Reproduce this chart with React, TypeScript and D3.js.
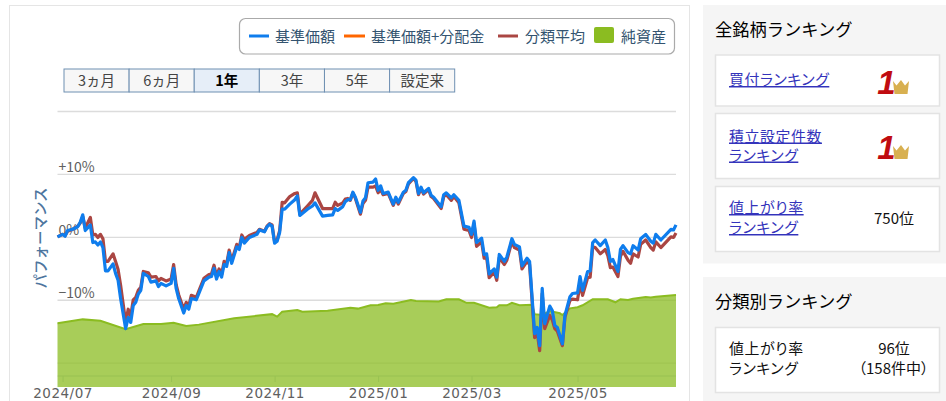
import { useEffect, useRef } from "react";
import * as d3 from "d3";

// legend and buttons
const legendLabels = ["基準価額", "基準価額+分配金", "分類平均", "純資産"];
const rangeLabels = ["3ヵ月", "6ヵ月", "1年", "3年", "5年", "設定来"];
const selectedRange = "1年";

// trading session number of each point
const sessions = [0, 2, 3, 4, 6, 8, 9, 10, 11, 13, 14, 15, 16, 17, 18, 19, 20, 22, 23, 24, 25, 27, 28, 29, 30, 31, 32, 33, 34, 36, 37, 39, 40, 41, 43, 45, 46, 47, 48, 50, 51, 52, 53, 55, 56, 58, 60, 61, 62, 63, 64, 65, 66, 67, 68, 69, 71, 72, 73, 74, 76, 79, 80, 82, 83, 84, 85, 86, 87, 88, 89, 90, 92, 94, 95, 96, 99, 101, 102, 105, 107, 109, 110, 111, 113, 114, 115, 116, 117, 118, 120, 121, 122, 123, 125, 126, 127, 128, 129, 131, 133, 134, 135, 137, 138, 139, 141, 142, 143, 144, 145, 147, 148, 149, 152, 153, 154, 156, 157, 159, 161, 163, 164, 165, 166, 168, 169, 170, 171, 173, 174, 175, 177, 178, 180, 181, 183, 184, 186, 187, 189, 190, 191, 192, 193, 195, 196, 197, 198, 200, 201, 203, 204, 206, 207, 208, 210, 211, 212, 213, 215, 217, 218, 219, 220, 222, 223, 224, 226, 227, 228, 230, 231, 233, 235, 236, 237, 239, 243, 244, 245];
const basePrice = [0.0, 0.4, 0.1, 1.0, 1.2, 1.6, 2.3, 3.5, 1.0, 1.9, -0.9, -0.8, -1.3, -0.8, -1.7, -5.4, -5.4, -4.3, -5.8, -6.9, -9.8, -14.6, -12.8, -13.6, -10.9, -10.4, -9.1, -8.5, -5.8, -6.3, -7.2, -7.0, -7.9, -7.4, -7.8, -7.4, -5.0, -8.2, -9.8, -12.1, -10.9, -11.5, -9.8, -10.0, -9.0, -7.0, -6.4, -6.3, -5.0, -6.7, -5.5, -6.4, -4.4, -4.7, -2.5, -4.2, -1.6, -2.0, -0.1, -1.0, -0.1, 0.4, 1.1, 0.8, 1.6, 2.0, 1.7, -1.0, -0.7, 0.7, 4.4, 4.4, 5.2, 5.9, 6.5, 3.4, 4.4, 4.9, 5.4, 3.3, 3.4, 3.5, 4.5, 4.2, 4.8, 5.6, 5.9, 5.9, 7.1, 6.3, 3.9, 5.7, 6.2, 8.6, 8.7, 9.2, 7.4, 8.1, 6.9, 7.1, 5.2, 6.3, 5.5, 7.1, 7.4, 8.6, 9.4, 9.0, 6.9, 7.9, 7.0, 7.7, 6.6, 6.3, 4.8, 6.7, 7.0, 6.2, 6.7, 5.8, 1.7, 1.5, 0.4, 2.5, -0.9, -0.2, -2.8, -2.7, -5.9, -5.1, -6.4, -2.8, -3.9, -3.2, -0.3, -1.2, -1.6, -4.6, -3.4, -3.9, -15.4, -14.4, -17.3, -8.2, -13.8, -11.0, -11.7, -14.1, -14.4, -17.0, -12.5, -9.5, -9.0, -8.9, -6.3, -8.5, -5.5, -5.4, -0.9, -0.5, -1.4, -0.5, -1.7, -3.9, -3.6, -5.5, -2.0, -1.4, -2.5, -2.7, -1.4, -2.1, -0.3, 0.4, -0.7, -1.0, 0.4, -0.5, 1.2, 1.1, 1.9];
const categoryAverage = [0.0, 0.4, 0.2, 0.9, 1.2, 1.7, 2.2, 3.2, 1.4, 3.1, 0.3, 0.4, -0.1, 0.4, -0.3, -3.9, -3.9, -2.7, -3.9, -5.2, -7.7, -13.6, -11.5, -12.6, -10.0, -9.6, -8.5, -8.0, -5.5, -5.7, -6.4, -6.3, -7.0, -6.6, -7.0, -6.7, -4.4, -7.6, -9.2, -11.5, -10.4, -11.0, -9.3, -9.6, -8.6, -6.6, -6.0, -5.9, -4.5, -6.3, -5.1, -6.0, -3.9, -4.3, -2.1, -3.8, -1.2, -1.7, 0.3, -0.4, 0.2, 0.7, 1.2, 0.9, 1.7, 2.1, 1.9, -0.8, -0.5, 1.0, 5.5, 5.4, 6.4, 6.9, 7.0, 3.6, 4.9, 5.8, 7.0, 4.5, 4.5, 4.5, 5.5, 5.0, 5.4, 6.0, 6.1, 5.8, 7.0, 6.1, 3.6, 5.3, 5.8, 7.9, 7.9, 8.1, 7.0, 7.5, 6.7, 6.9, 5.0, 6.1, 5.2, 6.9, 7.2, 8.4, 9.3, 8.8, 6.7, 7.7, 6.8, 7.5, 6.4, 6.1, 4.5, 6.4, 6.7, 5.8, 6.4, 5.4, 1.2, 1.0, -0.1, 2.1, -1.5, -0.8, -3.4, -3.3, -6.5, -5.6, -6.9, -3.3, -4.4, -3.7, -0.7, -1.7, -2.1, -5.1, -3.9, -4.4, -16.0, -15.1, -18.1, -9.0, -14.6, -12.5, -13.2, -14.6, -15.0, -17.3, -12.8, -10.1, -9.9, -10.0, -7.4, -9.3, -6.5, -6.4, -1.6, -1.7, -2.7, -2.0, -3.0, -4.9, -4.8, -6.3, -3.1, -2.3, -3.7, -4.2, -2.7, -3.2, -1.2, -0.5, -1.7, -2.1, -0.8, -1.7, 0.0, -0.1, 0.6];

// net assets, the hidden right axis runs 0-100
const assetSessions = [0, 10, 17, 27, 34, 41, 46, 51, 56, 70, 85, 87, 89, 95, 97, 107, 116, 119, 124, 127, 130, 133, 140, 142, 151, 154, 159, 162, 165, 171, 174, 175, 178, 180, 183, 188, 189, 192, 195, 199, 200, 203, 206, 208, 212, 218, 221, 223, 226, 228, 233, 235, 237, 245];
const netAssets = [23.1, 24.5, 24.0, 20.9, 22.8, 22.8, 23.3, 22.1, 22.6, 24.9, 26.4, 25.5, 27.3, 27.9, 27.3, 27.6, 28.7, 28.4, 29.6, 29.7, 30.3, 30.2, 31.5, 31.2, 31.0, 31.8, 31.8, 30.5, 30.5, 28.7, 28.9, 29.6, 29.6, 30.5, 29.6, 29.8, 26.4, 26.1, 27.5, 26.7, 26.1, 28.5, 28.9, 29.6, 31.8, 31.8, 30.7, 31.8, 31.5, 32.0, 32.6, 32.4, 32.7, 33.3];

// axes
const monthTicks = [2, 45, 86, 127, 164, 206];
const monthLabels = ["2024/07", "2024/09", "2024/11", "2025/01", "2025/03", "2025/05"];
const percentTicks = [20, 10, 0, -10, -20];
const percentLabels = ["", "+10%", "0%", "−10%", ""];

const plot = { left: 57.5, right: 676, top: 111, axis: 376, bottom: 387 };
const font = "'Noto Sans CJK JP', sans-serif";

const x = d3.scaleLinear().domain([0, 245]).range([plot.left, plot.right]);
const y = d3.scaleLinear().domain([-20, 20]).range([362.7, 111]);
const yAssets = d3.scaleLinear().domain([0, 100]).range([plot.bottom, plot.top]);

function Chart() {
    const ref = useRef<SVGGElement>(null);

    useEffect(() => {
        const g = d3.select(ref.current);

        //grid and percent labels
        const yAxis = g.append("g")
            .attr("transform", `translate(${plot.left},0)`)
            .call(d3.axisLeft(y).tickValues(percentTicks).tickSize(plot.left - plot.right).tickFormat((_, i) => percentLabels[i]));
        yAxis.select(".domain").remove();
        yAxis.selectAll("line").attr("stroke", "#dcdcdc").attr("stroke-width", 1.3);
        yAxis.selectAll("text")
            .attr("x", 1)
            .attr("dy", "-2")
            .attr("text-anchor", "start")
            .attr("fill", "#606060")
            .attr("font-size", 14)
            .attr("font-family", font);

        //month axis
        const xAxis = g.append("g")
            .attr("transform", `translate(0,${plot.axis})`)
            .call(d3.axisBottom(x).tickValues(monthTicks).tickSize(6).tickFormat((_, i) => monthLabels[i]));
        xAxis.select(".domain").attr("stroke", "#c0d0e0").attr("d", `M${plot.left},0H${plot.right}`);
        xAxis.selectAll("line").attr("stroke", "#c0d0e0");
        xAxis.selectAll("text")
            .attr("y", 22)
            .attr("dy", 0)
            .attr("fill", "#606060")
            .attr("font-size", 13.5)
            .attr("letter-spacing", 0.5)
            .attr("font-family", "'DejaVu Sans', sans-serif");

        //net assets
        const assetPoints = assetSessions.map((s, i) => [s, netAssets[i]] as [number, number]);
        g.append("path")
            .attr("d", d3.area<[number, number]>().x(d => x(d[0])).y0(plot.bottom).y1(d => yAssets(d[1]))(assetPoints))
            .attr("fill", "#8bbc21")
            .attr("fill-opacity", 0.75);
        g.append("path")
            .attr("d", d3.line<[number, number]>().x(d => x(d[0])).y(d => yAssets(d[1]))(assetPoints))
            .attr("fill", "none")
            .attr("stroke", "#8bbc21")
            .attr("stroke-width", 2);

        // performance lines
        const line = d3.line<number>().x((_, i) => x(sessions[i])).y(d => y(d));
        [{ values: categoryAverage, colour: "#aa4643" }, { values: basePrice, colour: "#0f7ded" }].forEach(s => {
            g.append("path")
                .attr("d", line(s.values))
                .attr("fill", "none")
                .attr("stroke", s.colour)
                .attr("stroke-width", 3.2)
                .attr("stroke-linejoin", "round");
        });

        return () => {
            g.selectAll("*").remove();
        };
    }, []);

    return <g ref={ref} />;
}

function Legend() {
    const ink = "#33536f";
    const textY = 41.5;
    return (
        <g fontFamily={font} fontSize={15} fill={ink}>
            <rect x={239.5} y={18.5} width={435} height={35.5} rx={6} fill="#fff" stroke="#aaa" strokeWidth={1.2} />
            <line x1={249} x2={269} y1={36} y2={36} stroke="#0f7ded" strokeWidth={3} />
            <text x={275} y={textY}>{legendLabels[0]}</text>
            <line x1={344} x2={365} y1={36} y2={36} stroke="#ff6600" strokeWidth={3} />
            <text x={371} y={textY}>{legendLabels[1]}</text>
            <line x1={498} x2={518} y1={36} y2={36} stroke="#aa4643" strokeWidth={3} />
            <text x={525} y={textY}>{legendLabels[2]}</text>
            <rect x={594} y={27} width={20} height={16} rx={2} fill="#8bbc21" />
            <text x={621} y={textY}>{legendLabels[3]}</text>
        </g>
    );
}

function RangeButtons() {
    const bx = d3.scaleLinear().domain([0, 6]).range([64, 454.7]);
    return (
        <g fontFamily={font} fontSize={14.5} textAnchor="middle">
            {rangeLabels.map((label, i) => (
                <g key={label}>
                    <rect x={bx(i)} y={69} width={bx(i + 1) - bx(i)} height={23}
                        fill={label === selectedRange ? "#e6eef8" : "#f7f7f7"} stroke="#6f90b2" strokeWidth={1} />
                    <text x={(bx(i) + bx(i + 1)) / 2} y={85.5} fill={label === selectedRange ? "#000" : "#444"}
                        fontWeight={label === selectedRange ? 700 : 400}>{label}</text>
                </g>
            ))}
        </g>
    );
}

function Crown({ cx, base }: { cx: number, base: number }) {
    return (
        <g>
            <text x={cx - 6.5} y={base} fontFamily="'Liberation Sans', sans-serif" fontStyle="italic" fontWeight={700}
                fontSize={33} fill="#c00c10" textAnchor="middle">1</text>
            <path d={`M${cx},${base - 13}l3.5,4.5l4.5,-5.5l4,5.5l4,-4.5l-1.5,13h-13z`} fill="#d8b050" />
        </g>
    );
}

function Box({ y, h }: { y: number, h: number }) {
    return <rect x={715.5} y={y} width={224} height={h} fill="#fff" stroke="#e3e3e3" strokeWidth={1.5} />;
}

function Sidebar() {
    const link = "#3333bb";
    return (
        <g fontFamily={font}>
            <rect x={703} y={5} width={243} height={258.5} fill="#f5f5f5" />
            <rect x={703} y={277} width={243} height={124} fill="#f5f5f5" />
            <text x={715} y={36} fontSize={17.25} fill="#000">全銘柄ランキング</text>
            <text x={715} y={308} fontSize={17.25} fill="#000">分類別ランキング</text>

            <Box y={55} h={51} />
            <Box y={113.5} h={65} />
            <Box y={186.5} h={65} />
            <Box y={327.5} h={65} />

            <g fontSize={14.9} letterSpacing={0.6} fill={link} textDecoration="underline" style={{ fontFeatureSettings: '"palt"' }}>
                <text x={729} y={85}>買付ランキング</text>
                <text x={729} y={141.5}>積立設定件数</text>
                <text x={729} y={160.5}>ランキング</text>
                <text x={729} y={213}>値上がり率</text>
                <text x={729} y={233}>ランキング</text>
            </g>
            <g fontSize={14.9} letterSpacing={0.6} fill="#111" style={{ fontFeatureSettings: '"palt"' }}>
                <text x={729} y={354}>値上がり率</text>
                <text x={729} y={374}>ランキング</text>
            </g>
            <g fontSize={15} fill="#111" textAnchor="middle" style={{ fontFeatureSettings: '"palt"' }}>
                <text x={894} y={224}>750位</text>
                <text x={894} y={354}>96位</text>
                <text x={893.5} y={374}>（158件中）</text>
            </g>
            <Crown cx={893} base={94} />
            <Crown cx={893} base={159} />
        </g>
    );
}

export default function App() {
    return (
        <svg width={946} height={401} style={{ position: "fixed", left: 0, top: 0, display: "block", background: "#fff" }}>
            <rect x={9.5} y={5.5} width={680} height={400} fill="#fff" stroke="#e5e5e5" strokeWidth={1} />
            <Chart />
            <Legend />
            <RangeButtons />
            <text transform="translate(46,238) rotate(-90)" textAnchor="middle" fontFamily={font} fontSize={14.5}
                fontWeight={500} fill="#4d759e">パフォーマンス</text>
            <Sidebar />
        </svg>
    );
}
